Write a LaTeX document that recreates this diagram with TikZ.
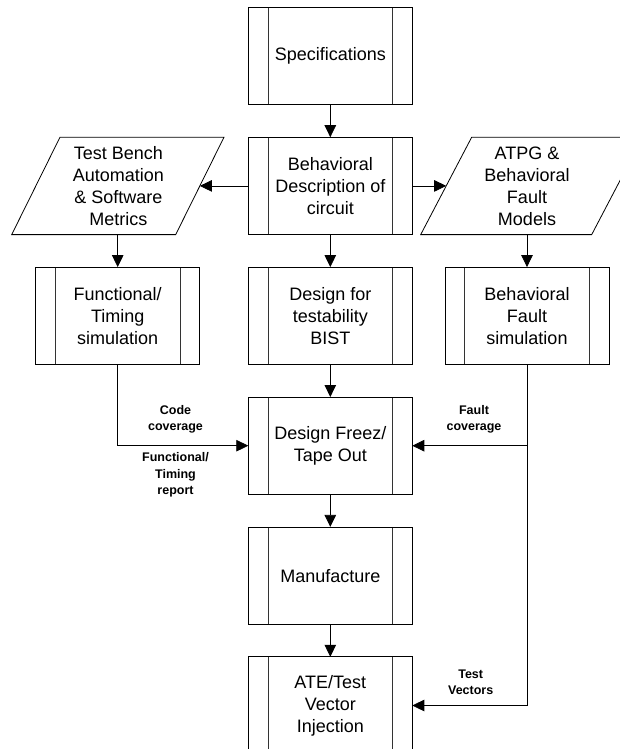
\documentclass[tikz,border=0pt]{standalone}
\usepackage{fontspec}
\setmainfont{Liberation Sans}
\usetikzlibrary{arrows.meta,calc}
\begin{document}
\begin{tikzpicture}[x=1pt,y=-1pt,
  proc/.style={draw=black, line width=0.8pt, minimum width=164pt, minimum height=97.4pt,
    inner sep=0pt, outer sep=0pt, align=center, font=\fontsize{18}{22}\selectfont,
    path picture={\draw[line width=0.8pt, black!80]
      ([xshift=19.6pt]path picture bounding box.north west) -- ([xshift=19.6pt]path picture bounding box.south west)
      ([xshift=-19.6pt]path picture bounding box.north east) -- ([xshift=-19.6pt]path picture bounding box.south east);}},
  datatxt/.style={align=center, font=\fontsize{18}{22}\selectfont, inner sep=0pt},
  note/.style={align=center, font=\fontsize{12.5}{16.3}\selectfont\bfseries, inner sep=0pt},
  flow/.style={line width=0.8pt, -{Triangle[length=12pt,width=11.5pt]}},
  dataio/.style={draw=black, line width=0.8pt, line join=miter}
]
\useasboundingbox (0,0) rectangle (620,749);

% main column of process boxes
\node[proc] (spec) at (330.3,56)    {Specifications};
\node[proc] (beh)  at (330.3,185.9) {Behavioral\\Description of\\circuit};
\node[proc] (dft)  at (330.3,315.8) {Design for\\testability\\BIST};
\node[proc] (dfz)  at (330.3,445.7) {Design Freez/\\Tape Out};
\node[proc] (man)  at (330.3,575.6) {Manufacture};
\node[proc] (ate)  at (330.3,705.5) {ATE/Test\\Vector\\Injection};

% side process boxes
\node[proc] (fts) at (117.7,315.8) {Functional/\\Timing\\simulation};
\node[proc] (bfs) at (527,315.8)   {Behavioral\\Fault\\simulation};

% input/output data shapes
\draw[dataio] (60,137.2) -- (224,137.2) -- (175.7,234.6) -- (11.7,234.6) -- cycle;
\coordinate (tbR) at (199.85,185.9);
\coordinate (tbB) at (117.7,234.6);
\node[datatxt] (tb) at (118.3,186.3) {Test Bench\\Automation\\\& Software\\Metrics};

\draw[dataio] (471.7,137.2) -- (642.7,137.2) -- (591.7,234.6) -- (420.7,234.6) -- cycle;
\coordinate (atpgL) at (446.2,185.9);
\coordinate (atpgB) at (527,234.6);
\node[datatxt] (atpg) at (527,186.3) {ATPG \&\\Behavioral\\Fault\\Models};

% connectors
\draw[flow] (spec.south) -- (beh.north);
\draw[flow] (beh.west) -- (tbR);
\draw[flow] (beh.east) -- (atpgL);
\draw[flow] (tbB) -- (fts.north);
\draw[flow] (atpgB) -- (bfs.north);
\draw[flow] (beh.south) -- (dft.north);
\draw[flow] (dft.south) -- (dfz.north);
\draw[flow] (dfz.south) -- (man.north);
\draw[flow] (man.south) -- (ate.north);
\draw[flow] (fts.south) |- (dfz.west);
\draw[flow] (bfs.south) |- (dfz.east);
\draw[flow] (bfs.south) |- (ate.east);

% connector labels
\node[note] (codecov) at (175.5,419.2) {Code\\coverage};
\node[note] (ftrep)   at (175.5,475)   {Functional/\\Timing\\report};
\node[note] (faultcov) at (474,419.5)  {Fault\\coverage};
\node[note] (testvec) at (470.7,682.2) {Test\\Vectors};
\end{tikzpicture}
\end{document}
